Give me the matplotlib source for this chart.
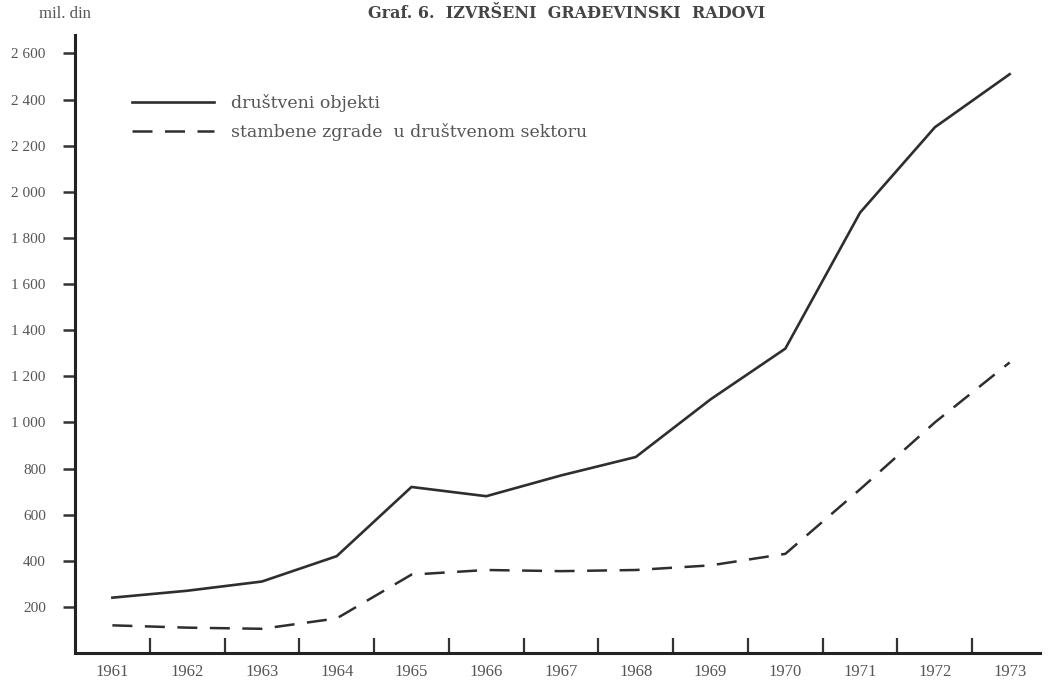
import matplotlib.pyplot as plt
from matplotlib.ticker import FixedLocator

# Data (mil. din)
years = [1961, 1962, 1963, 1964, 1965, 1966, 1967, 1968, 1969, 1970, 1971, 1972, 1973]
drustveni = [240, 270, 310, 420, 720, 680, 770, 850, 1100, 1320, 1910, 2280, 2510]
stambene = [120, 110, 105, 150, 340, 360, 355, 360, 380, 430, 710, 1000, 1260]
y_ticks = [200, 400, 600, 800, 1000, 1200, 1400, 1600, 1800, 2000, 2200, 2400, 2600]
y_labels = ['200', '400', '600', '800', '1 000', '1 200', '1 400', '1 600', '1 800',
            '2 000', '2 200', '2 400', '2 600']

plt.rcParams['font.family'] = ['Liberation Serif', 'DejaVu Serif']
ink = '#2e2e2e'
txt = '#555555'

fig = plt.figure(figsize=(10.49, 6.81), dpi=100)
ax = fig.add_axes([0.0715, 0.0411, 0.9195, 0.9075])

ax.plot(years, drustveni, color=ink, lw=1.9, label='društveni objekti')
ax.plot(years, stambene, color=ink, lw=1.8, dashes=(8, 5),
        label='stambene zgrade  u društvenom sektoru')

ax.set_xlim(1960.5, 1973.4)
ax.set_ylim(0, 2680)

for s in ['top', 'right']:
    ax.spines[s].set_visible(False)
for s in ['left', 'bottom']:
    ax.spines[s].set_linewidth(2.2)
    ax.spines[s].set_color('#222222')

ax.set_yticks(y_ticks)
ax.set_yticklabels(y_labels, fontsize=11, color=txt)
ax.tick_params(axis='y', direction='out', length=9, width=1.8, color='#333333', pad=12)

ax.set_xticks(years)
ax.set_xticklabels([str(y) for y in years], fontsize=12, color=txt)
ax.tick_params(axis='x', which='major', length=0, pad=8)
ax.xaxis.set_minor_locator(FixedLocator([y + 0.5 for y in years[:-1]]))
ax.tick_params(axis='x', which='minor', direction='in', length=11, width=1.6, color='#333333')

ax.legend(loc='upper left', bbox_to_anchor=(0.043, 0.93), frameon=False,
          prop={'family': 'DejaVu Serif', 'size': 12.5}, handlelength=4.7,
          handletextpad=1.0, labelspacing=0.62, labelcolor=txt)

fig.text(65 / 1049, 1 - 14 / 681, 'mil. din', ha='center', va='center', fontsize=12, color=txt)
fig.text(567 / 1049, 1 - 14 / 681, 'Graf. 6.  IZVRŠENI  GRAĐEVINSKI  RADOVI',
         ha='center', va='center', fontsize=11.5, fontweight='bold', color='#444444',
         family='DejaVu Serif')

fig.savefig('out.png', dpi=100, facecolor='white')
